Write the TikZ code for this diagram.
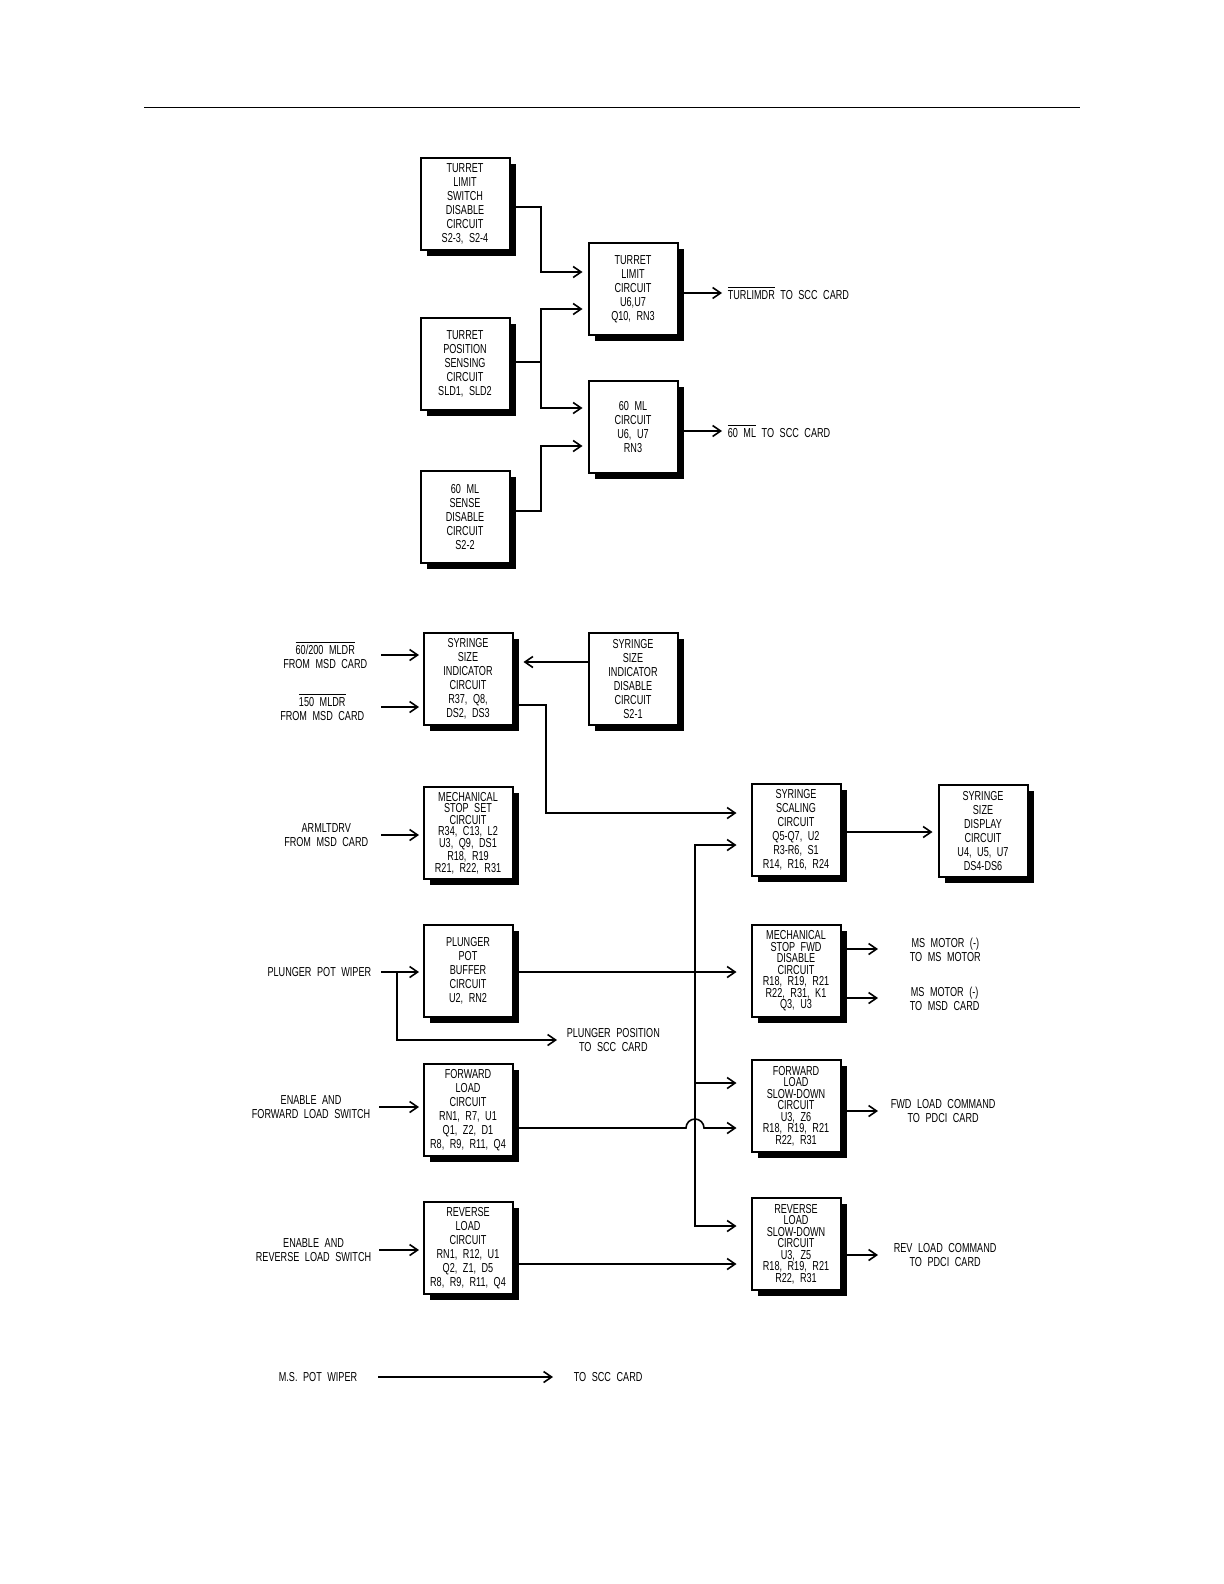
\documentclass[tikz,border=0pt]{standalone}
\usepackage{fontspec}
\setmainfont{Liberation Sans}[FakeStretch=0.7,WordSpace=2.2]
\usetikzlibrary{arrows.meta,shadows}
\newcommand{\ovl}[1]{$\overline{\hbox{#1}}$}

\begin{document}
\begin{tikzpicture}[x=0.5pt, y=-0.5pt, >={Straight Barb[length=4pt,width=5.5pt]}, line width=0.8pt,
  blk/.style={draw, line width=1pt, fill=white, minimum width=44.5pt, minimum height=46pt,
    inner sep=1pt, align=center, font=\fontsize{6.5}{7}\selectfont,
    drop shadow={shadow xshift=3pt, shadow yshift=-3pt, fill=black, opacity=1}},
  dense/.style={font=\fontsize{6.5}{5.75}\selectfont},
  lbl/.style={align=center, inner sep=1pt, font=\fontsize{6.5}{7}\selectfont},
  arr/.style={->, shorten >=2.5pt},
  arrw/.style={->, shorten >=7pt}]
  \useasboundingbox (0,0) rectangle (1224,1584);
  \draw[line width=0.5pt] (144,108) -- (1080,108);

  % turret / 60 ml section
  \node[blk] (tlsd) at (465,204) {TURRET\\LIMIT\\SWITCH\\DISABLE\\CIRCUIT\\S2-3, S2-4};
  \node[blk] (tlc) at (633,289) {TURRET\\LIMIT\\CIRCUIT\\U6,U7\\Q10, RN3};
  \node[blk] (tps) at (465,364) {TURRET\\POSITION\\SENSING\\CIRCUIT\\SLD1, SLD2};
  \node[blk] (ml60) at (633,427) {60 ML\\CIRCUIT\\U6, U7\\RN3};
  \node[blk] (mlsd) at (465,517) {60 ML\\SENSE\\DISABLE\\CIRCUIT\\S2-2};
  \node[lbl, anchor=west] (oturl) at (725,293) {\ovl{TURLIMDR} TO SCC CARD};
  \node[lbl, anchor=west] (o60) at (725,431) {\ovl{60 ML} TO SCC CARD};

  \draw[arr] (tlsd.east |- 0,207) -| (541,272) -- (tlc.west |- 0,272);
  \draw[arr] (tps.east |- 0,362) -| (541,309) -- (tlc.west |- 0,309);
  \draw[arr] (tps.east |- 0,362) -| (541,408) -- (ml60.west |- 0,408);
  \draw[arr] (mlsd.east |- 0,511) -| (541,446) -- (ml60.west |- 0,446);
  \draw[->] (tlc.east |- oturl) -- (722,0 |- oturl);
  \draw[->] (ml60.east |- o60) -- (722,0 |- o60);

  % syringe / plunger section
  \node[blk] (ssi) at (468,679) {SYRINGE\\SIZE\\INDICATOR\\CIRCUIT\\R37, Q8,\\DS2, DS3};
  \node[blk] (ssid) at (633,679) {SYRINGE\\SIZE\\INDICATOR\\DISABLE\\CIRCUIT\\S2-1};
  \node[blk,dense] (mss) at (468,833) {MECHANICAL\\STOP SET\\CIRCUIT\\R34, C13, L2\\U3, Q9, DS1\\R18, R19\\R21, R22, R31};
  \node[blk] (ssc) at (796,830) {SYRINGE\\SCALING\\CIRCUIT\\Q5-Q7, U2\\R3-R6, S1\\R14, R16, R24};
  \node[blk] (ssd) at (983,831) {SYRINGE\\SIZE\\DISPLAY\\CIRCUIT\\U4, U5, U7\\DS4-DS6};
  \node[blk] (ppb) at (468,971) {PLUNGER\\POT\\BUFFER\\CIRCUIT\\U2, RN2};
  \node[blk,dense] (msfd) at (796,971) {MECHANICAL\\STOP FWD\\DISABLE\\CIRCUIT\\R18, R19, R21\\R22, R31, K1\\Q3, U3};
  \node[blk] (fl) at (468,1110) {FORWARD\\LOAD\\CIRCUIT\\RN1, R7, U1\\Q1, Z2, D1\\R8, R9, R11, Q4};
  \node[blk,dense] (flsd) at (796,1106) {FORWARD\\LOAD\\SLOW-DOWN\\CIRCUIT\\U3, Z6\\R18, R19, R21\\R22, R31};
  \node[blk] (rl) at (468,1248) {REVERSE\\LOAD\\CIRCUIT\\RN1, R12, U1\\Q2, Z1, D5\\R8, R9, R11, Q4};
  \node[blk,dense] (rlsd) at (796,1244) {REVERSE\\LOAD\\SLOW-DOWN\\CIRCUIT\\U3, Z5\\R18, R19, R21\\R22, R31};

  \node[lbl, anchor=east] (in1) at (370,655) {\ovl{60/200 MLDR}\\FROM MSD CARD};
  \node[lbl, anchor=east] (in2) at (367,707) {\ovl{150 MLDR}\\FROM MSD CARD};
  \node[lbl, anchor=east] (in3) at (371,835) {ARMLTDRV\\FROM MSD CARD};
  \node[lbl, anchor=east] (in4) at (374,972) {PLUNGER POT WIPER};
  \node[lbl, anchor=east] (in5) at (373,1107) {ENABLE AND\\FORWARD LOAD SWITCH};
  \node[lbl, anchor=east] (in6) at (374,1250) {ENABLE AND\\REVERSE LOAD SWITCH};
  \node[lbl, anchor=west] (oplp) at (564,1040) {PLUNGER POSITION\\TO SCC CARD};
  \node[lbl, anchor=west] (omm1) at (907,950) {MS MOTOR (-)\\TO MS MOTOR};
  \node[lbl, anchor=west] (omm2) at (907,999) {MS MOTOR (-)\\TO MSD CARD};
  \node[lbl, anchor=west] (ofwd) at (888,1111) {FWD LOAD COMMAND\\TO PDCI CARD};
  \node[lbl, anchor=west] (orev) at (891,1255) {REV LOAD COMMAND\\TO PDCI CARD};

  \draw[->] (381,0 |- in1) -- (419,0 |- in1);
  \draw[->] (381,0 |- in2) -- (419,0 |- in2);
  \draw[->] (381,0 |- in3) -- (419,0 |- in3);
  \draw[->] (381,0 |- in4) -- (419,0 |- in4);
  \draw[->] (379,0 |- in5) -- (419,0 |- in5);
  \draw[->] (379,0 |- in6) -- (419,0 |- in6);
  \draw[->, shorten >=5pt] (ssid.west |- 0,662) -- (ssi.east |- 0,662);
  \draw[arrw] (ssi.east |- 0,705) -| (546,813) -- (ssc.west |- 0,813);
  \draw[arr] (ssc.east |- 0,832) -- (ssd.west |- 0,832);
  \coordinate (wip) at (397,972);
  \draw[->] (wip) |- (557,0 |- oplp);
  \draw[arrw] (ppb.east |- 0,972) -- (msfd.west |- 0,972);
  \coordinate (bus) at (695,972);
  \draw[arrw] (bus) |- (ssc.west |- 0,845);
  \draw[arrw] (bus) |- (flsd.west |- 0,1083);
  \draw[arrw] (bus) |- (rlsd.west |- 0,1226);
  \draw[arrw] (fl.east |- 0,1128) -- (686,1128) arc[start angle=180, end angle=360, radius=9]
    -- (flsd.west |- 0,1128);
  \draw[arrw] (rl.east |- 0,1264) -- (rlsd.west |- 0,1264);
  \draw[->] (msfd.east |- 0,949) -- (878,949);
  \draw[->] (msfd.east |- 0,998) -- (878,998);
  \draw[->] (flsd.east |- ofwd) -- (878,0 |- ofwd);
  \draw[->] (rlsd.east |- orev) -- (878,0 |- orev);

  % m.s. pot wiper
  \node[lbl, anchor=east] (in7) at (360,1377) {M.S. POT WIPER};
  \node[lbl, anchor=west] (oscc) at (571,1377) {TO SCC CARD};
  \draw[->] (378,0 |- in7) -- (553,0 |- oscc);
\end{tikzpicture}
\end{document}
